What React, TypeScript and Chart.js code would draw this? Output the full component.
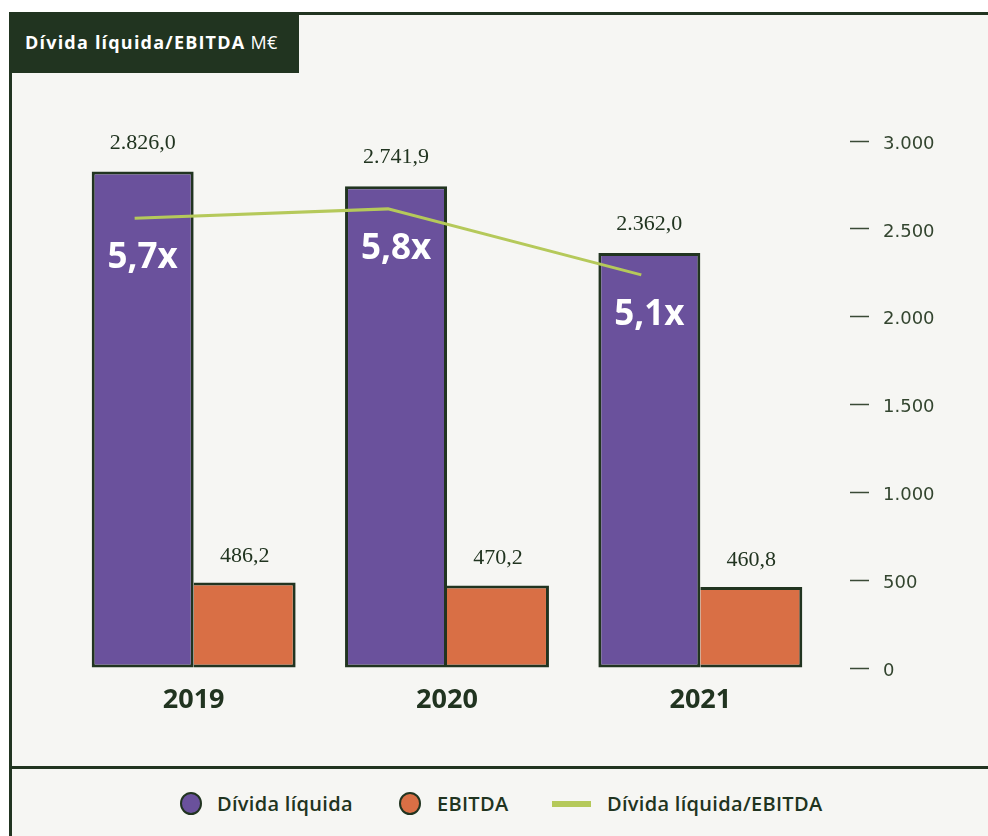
import React, { useEffect, useRef } from 'react';
import { Chart, registerables } from 'chart.js';

Chart.register(...registerables);

// ---------- data ----------
const YEARS = ['2019', '2020', '2021'];
const NET_DEBT = [2826.0, 2741.9, 2362.0];
const EBITDA = [486.2, 470.2, 460.8];
const RATIO = [5.7, 5.8, 5.1];
const NET_DEBT_LABELS = ['2.826,0', '2.741,9', '2.362,0'];
const EBITDA_LABELS = ['486,2', '470,2', '460,8'];
const RATIO_LABELS = ['5,7x', '5,8x', '5,1x'];
const Y_TICK_VALUES = [0, 500, 1000, 1500, 2000, 2500, 3000];
const Y_TICK_LABELS = ['0', '500', '1.000', '1.500', '2.000', '2.500', '3.000'];
const SERIES_NAMES = ['Dívida líquida', 'EBITDA', 'Dívida líquida/EBITDA'];
const TITLE = 'Dívida líquida/EBITDA';
const UNIT = 'M€';

// ---------- style ----------
const DARK = '#213420';
const BG = '#f6f6f3';
const PURPLE = '#6a519c';
const ORANGE = '#d96f45';
const GREEN = '#b5c95a';
const LINE_X_SHIFT = -0.233;
const SANS = '"Open Sans", "DejaVu Sans", sans-serif';

const labelPlugin = {
  id: 'valueLabels',
  afterDatasetsDraw(chart: any) {
    const ctx = chart.ctx;
    const lineMeta = chart.getDatasetMeta(0);
    const debtMeta = chart.getDatasetMeta(1);
    const ebitdaMeta = chart.getDatasetMeta(2);
    ctx.save();
    ctx.fillStyle = DARK;
    ctx.font = '22px "Liberation Serif", serif';
    ctx.textAlign = 'center';
    ctx.textBaseline = 'alphabetic';
    debtMeta.data.forEach((bar: any, i: number) => {
      ctx.fillText(NET_DEBT_LABELS[i], bar.x, bar.y - 23);
    });
    ebitdaMeta.data.forEach((bar: any, i: number) => {
      ctx.fillText(EBITDA_LABELS[i], bar.x, bar.y - 21);
    });
    ctx.fillStyle = '#ffffff';
    ctx.font = `bold 35px ${SANS}`;
    debtMeta.data.forEach((bar: any, i: number) => {
      const p = lineMeta.data[i];
      ctx.fillText(RATIO_LABELS[i], bar.x, p.y + 50);
    });
    ctx.restore();
  },
};

export default function App() {
  const ref = useRef<HTMLCanvasElement>(null);

  useEffect(() => {
    const chart = new Chart(ref.current as HTMLCanvasElement, {
      type: 'bar',
      data: {
        labels: YEARS,
        datasets: [
          {
            type: 'line',
            label: SERIES_NAMES[2],
            parsing: false,
            data: RATIO.map((r, i) => ({ x: i + LINE_X_SHIFT, y: r })),
            xAxisID: 'x',
            yAxisID: 'y2',
            borderColor: GREEN,
            backgroundColor: GREEN,
            borderWidth: 3,
            pointRadius: 0,
            tension: 0,
            fill: false,
            order: 0,
          } as any,
          {
            type: 'bar',
            label: SERIES_NAMES[0],
            data: NET_DEBT,
            xAxisID: 'x',
            yAxisID: 'y',
            backgroundColor: PURPLE,
            borderColor: DARK,
            borderWidth: 3,
            borderSkipped: false,
            categoryPercentage: 0.805,
            barPercentage: 1,
            order: 1,
          },
          {
            type: 'bar',
            label: SERIES_NAMES[1],
            data: EBITDA,
            xAxisID: 'x',
            yAxisID: 'y',
            backgroundColor: ORANGE,
            borderColor: DARK,
            borderWidth: { top: 3, right: 3, bottom: 3, left: 0 },
            borderSkipped: false,
            categoryPercentage: 0.805,
            barPercentage: 1,
            order: 2,
          },
        ],
      },
      options: {
        responsive: false,
        maintainAspectRatio: false,
        animation: false,
        devicePixelRatio: 1,
        layout: { padding: { left: 56, top: 127, right: 0, bottom: 0 } },
        plugins: {
          legend: { display: false },
          tooltip: { enabled: false },
          title: { display: false },
        },
        scales: {
          x: {
            type: 'category',
            offset: true,
            grid: { display: false, drawTicks: false },
            border: { display: false },
            ticks: {
              color: DARK,
              font: { family: SANS, size: 27, weight: 'bold' },
              padding: 16,
            },
            afterFit: (s: any) => {
              s.height = 98;
            },
          },
          y: {
            position: 'right',
            min: 0,
            max: 3000,
            afterBuildTicks: (s: any) => {
              s.ticks = Y_TICK_VALUES.map((v) => ({ value: v }));
            },
            grid: {
              drawOnChartArea: false,
              drawTicks: true,
              tickLength: 42,
              tickBorderDash: [0, 23, 19, 300],
              tickColor: '#3a4a36',
              tickWidth: 1.3,
            },
            border: { display: false },
            ticks: {
              padding: 14,
              labelOffset: 3,
              color: '#33452f',
              font: { family: '"DejaVu Sans", sans-serif', size: 18 },
              callback: (v: any) => Y_TICK_LABELS[Y_TICK_VALUES.indexOf(Number(v))],
            },
            afterFit: (s: any) => {
              s.width = 161;
            },
          },
          y2: { type: 'linear', display: false, min: 0.93, max: 6.52 },
        },
      } as any,
      plugins: [labelPlugin],
    });
    return () => chart.destroy();
  }, []);

  const legendText: React.CSSProperties = {
    position: 'absolute',
    top: 792,
    height: 24,
    lineHeight: '24px',
    fontFamily: SANS,
    fontWeight: 600,
    fontSize: 20,
    letterSpacing: '0.3px',
    color: DARK,
    whiteSpace: 'nowrap',
  };
  const dot = (left: number, color: string): React.CSSProperties => ({
    position: 'absolute',
    left,
    top: 792,
    width: 22,
    height: 23,
    borderRadius: '50%',
    background: color,
    border: `2.5px solid ${DARK}`,
    boxSizing: 'border-box',
  });

  return (
    <div
      style={{
        position: 'absolute',
        left: 0,
        top: 0,
        width: 988,
        height: 836,
        background: '#ffffff',
        overflow: 'hidden',
      }}
    >
      <div
        style={{
          position: 'absolute',
          left: 9,
          top: 12,
          right: 0,
          bottom: 0,
          background: BG,
          borderLeft: `3px solid ${DARK}`,
          borderTop: `3px solid ${DARK}`,
        }}
      />
      <canvas
        ref={ref}
        width={977}
        height={752}
        style={{ position: 'absolute', left: 11, top: 14, width: 977, height: 752 }}
      />
      <div
        style={{
          position: 'absolute',
          left: 9,
          top: 12,
          width: 290,
          height: 61,
          background: DARK,
          color: '#ffffff',
          display: 'flex',
          alignItems: 'center',
          paddingLeft: 16,
          paddingBottom: 2,
          boxSizing: 'border-box',
          fontFamily: SANS,
          fontSize: 18,
          whiteSpace: 'nowrap',
        }}
      >
        <span style={{ fontWeight: 700, letterSpacing: '1.2px' }}>{TITLE}</span>
        <span style={{ fontWeight: 400, marginLeft: 5, letterSpacing: '0.5px' }}>{UNIT}</span>
      </div>
      <div
        style={{ position: 'absolute', left: 9, top: 766, width: 979, height: 3, background: DARK }}
      />
      <div style={dot(180, PURPLE)} />
      <div style={{ ...legendText, left: 217 }}>{SERIES_NAMES[0]}</div>
      <div style={dot(399, ORANGE)} />
      <div style={{ ...legendText, left: 437 }}>{SERIES_NAMES[1]}</div>
      <div
        style={{ position: 'absolute', left: 552, top: 801, width: 39, height: 6, background: GREEN }}
      />
      <div style={{ ...legendText, left: 607 }}>{SERIES_NAMES[2]}</div>
    </div>
  );
}
